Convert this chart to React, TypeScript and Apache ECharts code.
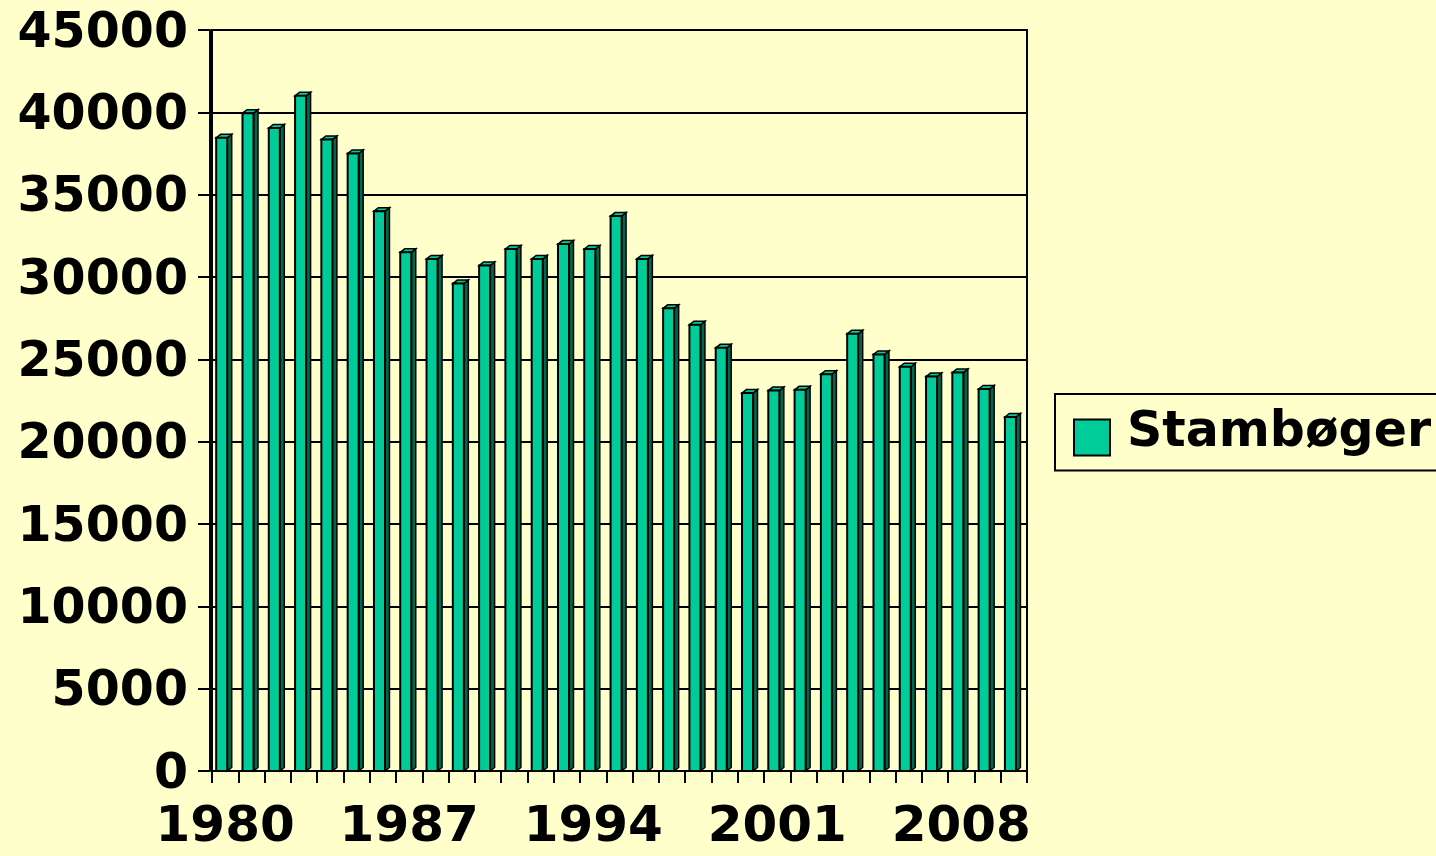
import React, { useEffect, useRef } from "react";
import * as echarts from "echarts";

const years: string[] = [
  "1980", "1981", "1982", "1983", "1984", "1985", "1986", "1987", "1988", "1989",
  "1990", "1991", "1992", "1993", "1994", "1995", "1996", "1997", "1998", "1999",
  "2000", "2001", "2002", "2003", "2004", "2005", "2006", "2007", "2008", "2009", "2010",
];
const stambogerValues: number[] = [
  38450, 39950, 39050, 41000, 38350, 37500, 34000, 31500, 31100, 29600,
  30700, 31700, 31100, 32000, 31700, 33700, 31100, 28100, 27100, 25700,
  22950, 23100, 23150, 24100, 26550, 25300, 24550, 23950, 24200, 23200, 21500,
];
const seriesName = "Stambøger";
const yTicks = { min: 0, max: 45000, interval: 5000 };

const FONT = "DejaVu Sans";
const BG = "#FFFFCC";
const FRONT = "#00CC99";
const SIDE = "#00664C";

export default function App() {
  const ref = useRef<HTMLDivElement>(null);
  useEffect(() => {
    if (!ref.current) return;
    const chart = echarts.init(ref.current, undefined, { renderer: "svg" });
    const option: any = {
      animation: false,
      backgroundColor: BG,
      grid: {
        left: 212,
        right: 409,
        top: 30,
        bottom: 85,
        show: true,
        borderColor: "#000",
        borderWidth: 2,
        backgroundColor: "transparent",
      },
      legend: {
        show: true,
        left: 1055,
        top: 394,
        orient: "vertical",
        padding: [11, 20, 14, 18],
        borderColor: "#000",
        borderWidth: 2,
        itemWidth: 36,
        itemHeight: 36,
        data: [{ name: seriesName, icon: "rect" }],
        itemStyle: { color: FRONT, borderColor: "#000", borderWidth: 2 },
        formatter: (name: string) => "{t|" + name + "}",
        textStyle: {
          fontFamily: FONT,
          fontWeight: "bold",
          fontSize: 49,
          color: "#000",
          rich: {
            t: {
              fontFamily: FONT,
              fontWeight: "bold",
              fontSize: 49,
              color: "#000",
              padding: [0, 0, 16, 12],
            },
          },
        },
      },
      xAxis: {
        type: "category",
        data: years,
        boundaryGap: true,
        axisLine: { show: true, lineStyle: { color: "#000", width: 2 } },
        axisTick: {
          show: true,
          interval: 0,
          length: 12,
          lineStyle: { color: "#000", width: 2 },
        },
        axisLabel: {
          interval: 6,
          margin: 31,
          lineHeight: 44,
          fontFamily: FONT,
          fontWeight: "bold",
          fontSize: 50,
          color: "#000",
        },
        splitLine: { show: false },
      },
      yAxis: {
        type: "value",
        min: yTicks.min,
        max: yTicks.max,
        interval: yTicks.interval,
        offset: 2,
        axisLine: { show: true, lineStyle: { color: "#000", width: 2 } },
        axisTick: { show: true, length: 12, lineStyle: { color: "#000", width: 2 } },
        axisLabel: {
          margin: 22,
          fontFamily: FONT,
          fontWeight: "bold",
          fontSize: 49,
          color: "#000",
          formatter: (v: number) => String(v),
        },
        splitLine: { show: true, lineStyle: { color: "#000", width: 2 } },
      },
      series: [
        {
          name: seriesName,
          type: "custom",
          itemStyle: { color: FRONT, borderColor: "#000", borderWidth: 2 },
          data: stambogerValues.map((v, i) => [i, v]),
          encode: { x: 0, y: 1 },
          renderItem: (params: any, api: any) => {
            const idx = api.value(0);
            const v = api.value(1);
            const top = api.coord([idx, v]);
            const base = api.coord([idx, 0]);
            const bw = api.size([1, 0])[0];
            const fw = bw * 0.42;
            const dx = bw * 0.17;
            const dy = 3.5;
            const x0 = top[0] - bw * 0.34;
            const x1 = x0 + fw;
            return {
              type: "group",
              children: [
                {
                  type: "polygon",
                  shape: {
                    points: [
                      [x1, top[1]],
                      [x1 + dx, top[1] - dy],
                      [x1 + dx, base[1] - dy],
                      [x1, base[1]],
                    ],
                  },
                  style: { fill: SIDE, stroke: "#000", lineWidth: 1.5 },
                },
                {
                  type: "polygon",
                  shape: {
                    points: [
                      [x0, top[1]],
                      [x0 + dx, top[1] - dy],
                      [x1 + dx, top[1] - dy],
                      [x1, top[1]],
                    ],
                  },
                  style: { fill: FRONT, stroke: "#000", lineWidth: 1.5 },
                },
                {
                  type: "rect",
                  shape: { x: x0, y: top[1], width: fw, height: base[1] - top[1] },
                  style: { fill: FRONT, stroke: "#000", lineWidth: 2 },
                },
              ],
            };
          },
        },
      ],
    };
    chart.setOption(option);
    return () => chart.dispose();
  }, []);
  return (
    <div
      ref={ref}
      style={{ position: "absolute", left: 0, top: 0, width: 1436, height: 856 }}
    />
  );
}
